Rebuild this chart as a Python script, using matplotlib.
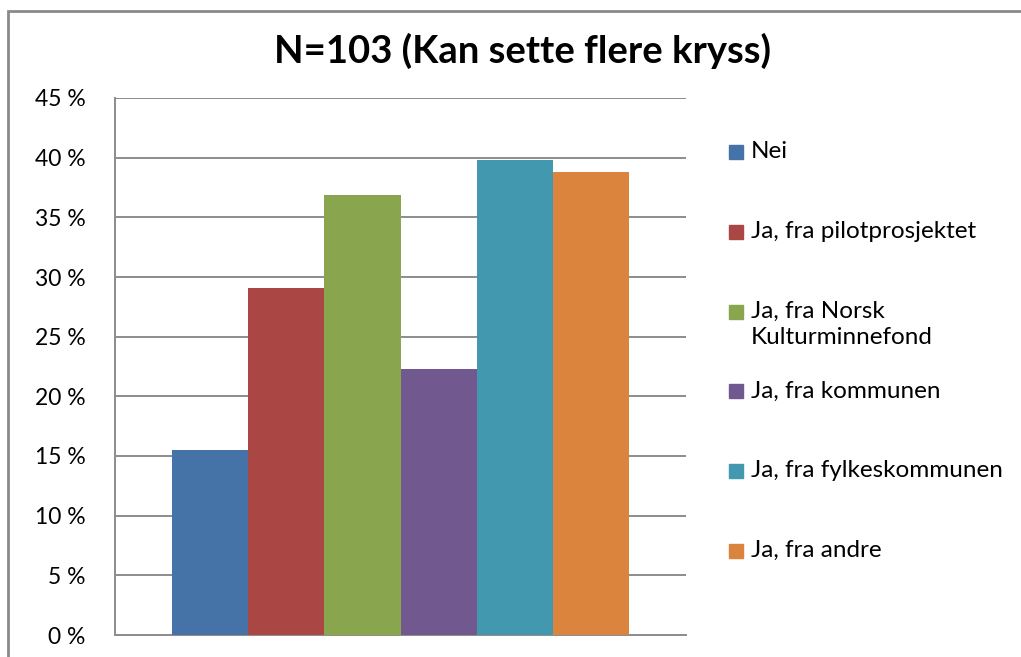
import matplotlib.pyplot as plt
from matplotlib.patches import Rectangle
from matplotlib.ticker import FuncFormatter

# ==========================================
# Data (share of 103 respondents)
# ==========================================
labels = ["Nei", "Ja, fra pilotprosjektet", "Ja, fra Norsk\nKulturminnefond",
          "Ja, fra kommunen", "Ja, fra fylkeskommunen", "Ja, fra andre"]
values = [15.5, 29.1, 36.9, 22.3, 39.8, 38.8]
colors = ["#4572A7", "#AA4643", "#89A54E", "#71588F", "#4198AF", "#DB843D"]
yticks = [0, 5, 10, 15, 20, 25, 30, 35, 40, 45]

plt.rcParams['font.family'] = ['Lato', 'DejaVu Sans']

W, H = 1021, 657
fig = plt.figure(figsize=(W / 100, H / 100), dpi=100)

# plot area in pixel coordinates
left, right, top, bottom = 115, 686, 98, 635
ax = fig.add_axes([left / W, 1 - bottom / H, (right - left) / W, (bottom - top) / H])

bar_w = 1.0
xs = [i * bar_w for i in range(len(values))]
ax.bar(xs, values, width=bar_w, color=colors, align='edge', zorder=3)
ax.set_xlim(-0.75, len(values) * bar_w + 0.75)
ax.set_ylim(0, 45)
ax.set_yticks(yticks)
ax.yaxis.set_major_formatter(FuncFormatter(lambda v, p: f"{int(v)} %"))
ax.tick_params(axis='y', length=0, pad=21, labelsize=16.5, colors='black')
ax.tick_params(axis='x', length=0, labelbottom=False)
ax.grid(axis='y', color='#8c8c8c', linewidth=1.4, zorder=0)
for s in ['top', 'right']:
    ax.spines[s].set_visible(False)
for s in ['left', 'bottom']:
    ax.spines[s].set_color('#8c8c8c')
    ax.spines[s].set_linewidth(1.4)

# title
fig.text(522 / W, 1 - 51 / H, "N=103 (Kan sette flere kryss)", ha='center', va='center',
         fontsize=27.5, fontweight='bold')

# legend drawn by hand (Excel spaces entries evenly)
leg_y0, leg_step = 152, 79.8
for i, (lab, col) in enumerate(zip(labels, colors)):
    yc = leg_y0 + i * leg_step
    fig.patches.append(Rectangle((729 / W, 1 - (yc + 7) / H), 14 / W, 14 / H,
                                 transform=fig.transFigure, color=col))
    fig.text(751 / W, 1 - (yc - 11) / H, lab, ha='left', va='top', fontsize=17.5,
             linespacing=1.3)

# outer chart frame
fig.patches.append(Rectangle((8 / W, -0.1), 1.2, 1 - 11 / H + 0.1, transform=fig.transFigure,
                             fill=False, edgecolor='#8a8a8a', linewidth=2))

fig.savefig("out.png", dpi=100)
